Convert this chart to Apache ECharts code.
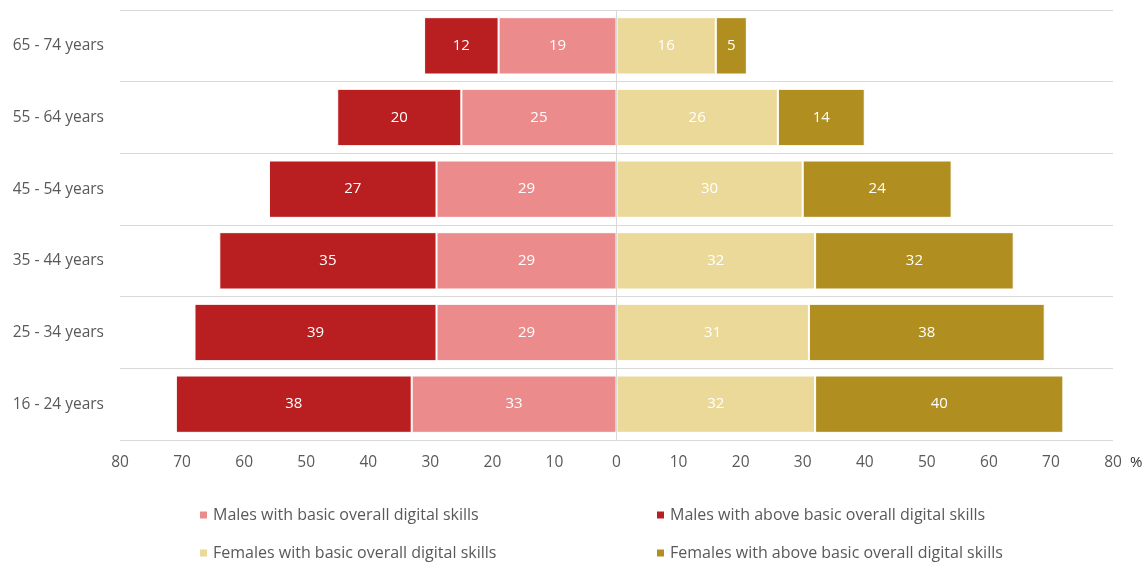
<!DOCTYPE html>
<html>
<head>
<meta charset="utf-8">
<script src="https://cdn.jsdelivr.net/npm/echarts@6/dist/echarts.min.js"></script>
<style>
  html, body { margin: 0; padding: 0; background: #fff; }
  #chart { width: 1146px; height: 565px; }
</style>
</head>
<body>
<div id="chart"></div>
<script>
// age groups, bottom to top (category axis starts at the bottom)
const ageGroups = ['16 - 24 years', '25 - 34 years', '35 - 44 years', '45 - 54 years', '55 - 64 years', '65 - 74 years'];
const malesBasic = [33, 29, 29, 29, 25, 19];
const malesAbove = [38, 39, 35, 27, 20, 12];
const femalesBasic = [32, 31, 32, 30, 26, 16];
const femalesAbove = [40, 38, 32, 24, 14, 5];
const xTicks = [-80, 80, 10]; // min, max, interval

const chart = echarts.init(document.getElementById('chart'));

const labelStyle = {
  show: true,
  position: 'inside',
  color: '#ffffff',
  fontSize: 15,
  fontFamily: 'Open Sans',
  formatter: p => Math.abs(p.value)
};

function barSeries(name, values, color, neg) {
  return {
    name: name,
    type: 'bar',
    stack: 'all', // negatives and positives stack separately
    barCategoryGap: '20%',
    data: values.map(v => neg ? -v : v),
    itemStyle: { color: color, borderColor: '#ffffff', borderWidth: 1 },
    label: labelStyle,
    emphasis: { disabled: true }
  };
}

const series = [
  barSeries('Males with basic overall digital skills', malesBasic, '#EC8B8C', true),
  barSeries('Males with above basic overall digital skills', malesAbove, '#B91E21', true),
  barSeries('Females with basic overall digital skills', femalesBasic, '#EBD99A', false),
  barSeries('Females with above basic overall digital skills', femalesAbove, '#B08F20', false)
];
// vertical line at zero
series[0].markLine = {
  silent: true,
  symbol: 'none',
  label: { show: false },
  lineStyle: { color: '#d9d9d9', type: 'solid', width: 1 },
  data: [{ xAxis: 0 }]
};

const legendText = { color: '#595959', fontSize: 16, fontFamily: 'Open Sans' };

const option = {
  backgroundColor: '#fff',
  animation: false,
  grid: { left: 120, right: 33, top: 10, bottom: 125 },
  legend: [
    {
      orient: 'vertical',
      left: 198,
      top: 507,
      padding: 0,
      itemWidth: 9,
      itemHeight: 9,
      itemGap: 22,
      icon: 'rect',
      textStyle: legendText,
      data: ['Males with basic overall digital skills', 'Females with basic overall digital skills']
    },
    {
      orient: 'vertical',
      left: 655,
      top: 507,
      padding: 0,
      itemWidth: 9,
      itemHeight: 9,
      itemGap: 22,
      icon: 'rect',
      textStyle: legendText,
      data: ['Males with above basic overall digital skills', 'Females with above basic overall digital skills']
    }
  ],
  xAxis: {
    type: 'value',
    min: xTicks[0],
    max: xTicks[1],
    interval: xTicks[2],
    name: '%',
    nameLocation: 'end',
    nameGap: 17,
    nameTextStyle: { color: '#333', fontSize: 15, fontFamily: 'Open Sans', verticalAlign: 'top', padding: [15, 0, 0, 0] },
    axisLine: { show: false },
    axisTick: { show: false },
    splitLine: { show: false },
    axisLabel: {
      color: '#595959',
      fontSize: 15.5,
      fontFamily: 'Open Sans',
      margin: 15,
      formatter: v => Math.abs(v)
    }
  },
  yAxis: {
    type: 'category',
    data: ageGroups,
    axisLine: { show: false },
    axisTick: { show: false },
    splitLine: { show: true, lineStyle: { color: '#d9d9d9', width: 1 } },
    axisLabel: { color: '#595959', fontSize: 15.5, fontFamily: 'Open Sans', margin: 16 }
  },
  series: series
};

chart.setOption(option);
</script>
</body>
</html>
